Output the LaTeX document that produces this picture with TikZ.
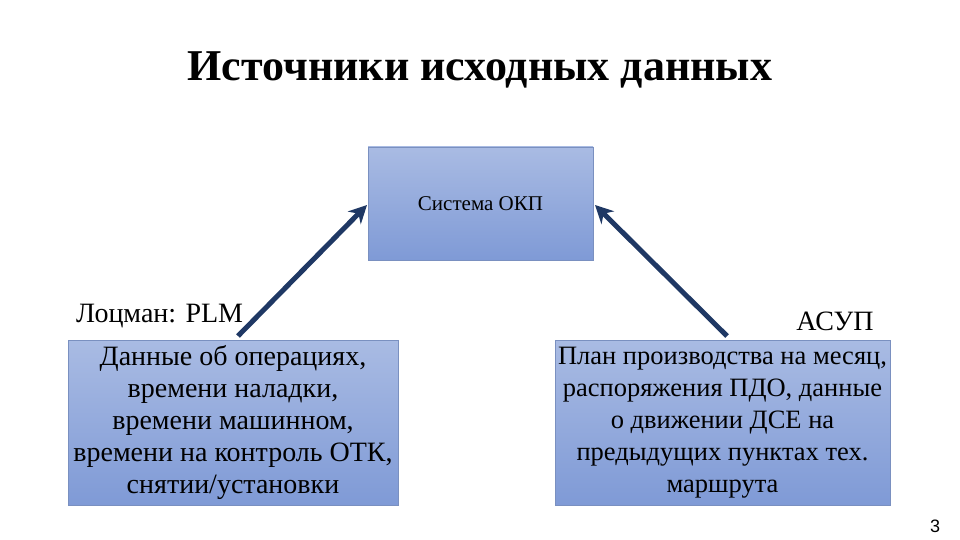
\documentclass[tikz,border=0pt]{standalone}
\usepackage{fontspec}
\setmainfont{Liberation Serif}
\setsansfont{Liberation Sans}
\usetikzlibrary{arrows.meta,shadows}
\definecolor{boxtop}{HTML}{A9BBE3}
\definecolor{boxbot}{HTML}{7F9AD6}
\definecolor{boxline}{HTML}{7A90C0}
\definecolor{arr}{HTML}{1F3864}
\tikzset{
 srcbox/.style={draw=boxline, top color=boxtop, bottom color=boxbot, inner sep=0pt, align=center, font=\fontsize{28}{32}\selectfont, drop shadow={shadow xshift=1pt,shadow yshift=-1pt,opacity=0.3}},
 lbl/.style={font=\fontsize{28}{33}\selectfont, inner sep=0pt},
 arrw/.style={draw=arr, line width=5pt, -{Stealth[length=18pt,width=18pt]}}
}
\begin{document}
\begin{tikzpicture}[x=1pt,y=-1pt]
\useasboundingbox (0,0) rectangle (960,540);
\node[font=\fontsize{44}{50}\selectfont\bfseries] (title) at (480,70) {Источники исходных данных};
\node[srcbox, minimum width=225pt, minimum height=113pt, font=\fontsize{21}{25}\selectfont] (okp) at (480.5,203.5) {Система ОКП};
\node[srcbox, minimum width=330pt, minimum height=165pt] (plm) at (233,422.5) {Данные об операциях,\\времени наладки,\\времени машинном,\\времени на контроль ОТК,\\снятии/установки};
\node[srcbox, minimum width=335pt, minimum height=165pt, font=\fontsize{26.5}{32}\selectfont] (asup) at (722.5,422.5) {План производства на месяц,\\распоряжения ПДО, данные\\о движении ДСЕ на\\предыдущих пунктах тех.\\маршрута};
\node[lbl, anchor=west] (l1) at (76,316) {Лоцман: PLM};
\node[lbl] (l2) at (835,321) {АСУП};
\node[font=\sffamily\fontsize{18}{20}\selectfont] (num) at (935,526) {3};
\coordinate (a1) at (238,336);
\coordinate (a2) at (727,336);
\draw[arrw] (a1) -- (367,205);
\draw[arrw] (a2) -- (595,205);
\end{tikzpicture}
\end{document}
